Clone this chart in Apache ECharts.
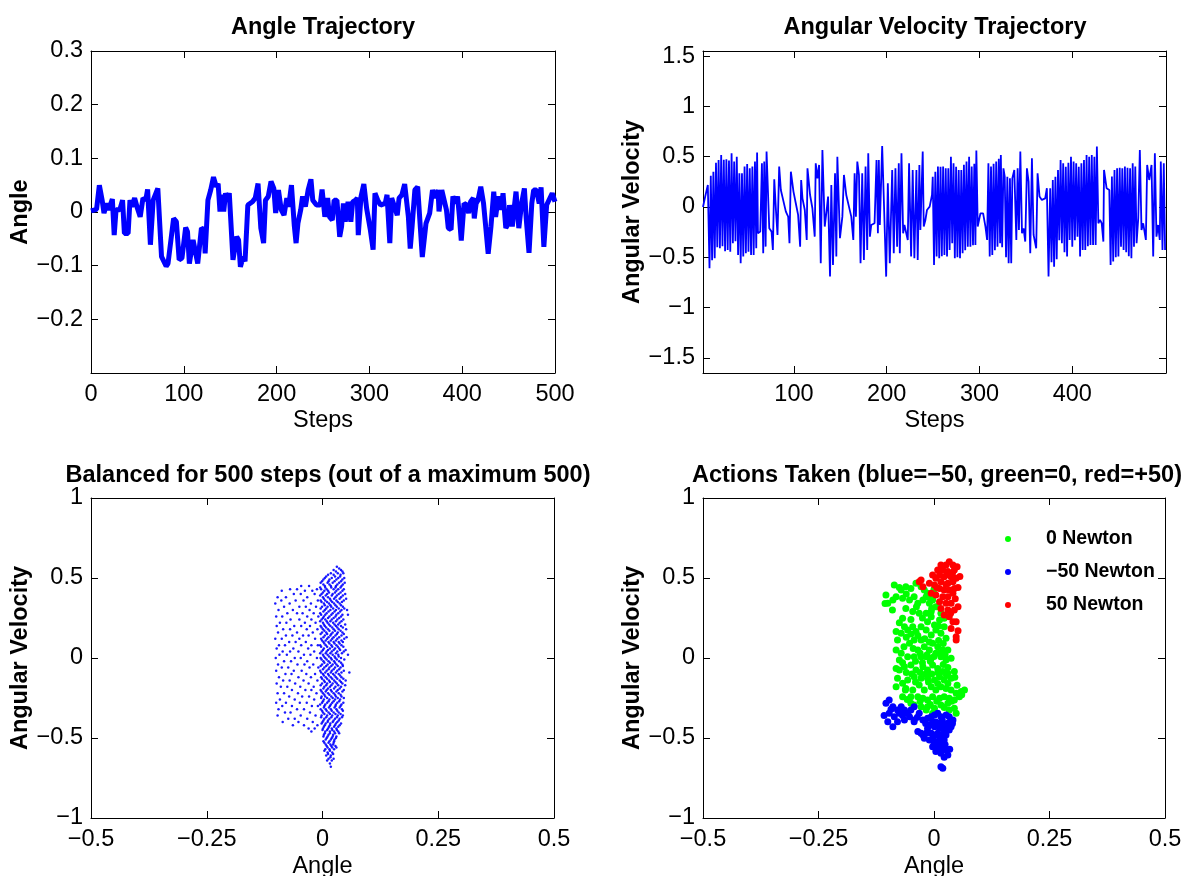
<!DOCTYPE html>
<html><head><meta charset="utf-8">
<script src="https://cdn.jsdelivr.net/npm/echarts@6/dist/echarts.min.js"></script>
<style>html,body{margin:0;padding:0;background:#fff}#c{width:1190px;height:876px}</style>
</head><body><div id="c"></div>
<script>
// ---------- data ----------
const titles = ['Angle Trajectory', 'Angular Velocity Trajectory',
  'Balanced for 500 steps (out of a maximum 500)', 'Actions Taken (blue=\u221250, green=0, red=+50)'];
const legendNames = ['0 Newton', '\u221250 Newton', '50 Newton'];

const angleTicksY = [-0.2, -0.1, 0, 0.1, 0.2, 0.3];
const stepTicksA = [0, 100, 200, 300, 400, 500];
const velTicksY = [-1.5, -1, -0.5, 0, 0.5, 1, 1.5];
const stepTicksV = [100, 200, 300, 400];
const phaseTicksX = [-0.5, -0.25, 0, 0.25, 0.5];
const phaseTicksY = [-1, -0.5, 0, 0.5, 1];

// angle trajectory [step, angle]
const angleTraj = [[0,0.002],[6,0.005],[9,0.050],[12,0.022],[14,-0.002],[17,0.016],[19,0.004],[23,0.024],[25,-0.043],[27,0.004],[31,0.004],[34,0.022],[36,-0.040],[40,-0.040],[42,0.022],[44,0.010],[47,0.026],[50,0.007],[53,-0.009],[56,0.026],[59,0.022],[61,0.042],[64,-0.061],[67,0.022],[72,0.044],[76,-0.083],[81,-0.101],[83,-0.096],[89,-0.012],[92,-0.018],[95,-0.089],[98,-0.086],[102,-0.029],[104,-0.037],[106,-0.096],[110,-0.052],[115,-0.096],[119,-0.030],[122,-0.033],[123,-0.077],[126,0.022],[129,0.041],[132,0.065],[135,0.047],[137,0.053],[139,0.001],[141,0.032],[143,0.001],[145,0.035],[147,0.022],[149,0.035],[153,-0.089],[157,-0.046],[159,-0.052],[161,-0.102],[164,-0.083],[166,-0.092],[169,0.013],[171,0.016],[174,0.019],[177,0.026],[180,0.053],[183,-0.030],[186,-0.058],[188,0.022],[191,0.029],[194,0.057],[197,0.044],[199,-0.002],[202,0.041],[205,0.004],[208,-0.006],[211,0.026],[213,0.010],[216,0.050],[219,-0.024],[221,-0.058],[223,-0.021],[226,0.004],[228,0.029],[231,0.010],[234,0.041],[237,0.061],[239,0.022],[243,0.013],[247,0.013],[249,0.042],[252,-0.009],[255,0.026],[257,-0.009],[260,-0.015],[262,0.022],[265,0.022],[268,-0.046],[270,-0.027],[272,0.016],[274,-0.018],[277,0.019],[280,-0.018],[282,0.019],[285,0.022],[287,0.026],[288,-0.043],[291,0.029],[294,0.052],[297,0.007],[301,-0.033],[304,-0.070],[306,0.035],[309,0.022],[312,0.013],[317,0.016],[319,0.032],[322,-0.058],[324,0.026],[327,0.010],[330,-0.006],[332,0.026],[335,0.032],[338,0.052],[342,-0.009],[344,-0.068],[346,-0.027],[349,0.041],[352,0.047],[357,-0.084],[361,-0.021],[365,-0.002],[368,0.041],[371,0.026],[374,0.041],[375,0.001],[378,0.041],[383,0.004],[385,-0.030],[388,-0.033],[390,0.029],[393,0.016],[395,0.029],[397,-0.009],[399,-0.053],[402,0.016],[405,0.013],[407,-0.002],[409,0.019],[412,0.026],[413,-0.012],[415,0.016],[417,0.022],[420,0.047],[423,0.016],[425,-0.021],[428,-0.078],[431,-0.027],[434,0.038],[436,-0.009],[439,0.029],[442,0.004],[444,0.035],[447,-0.030],[450,-0.021],[451,0.013],[454,-0.027],[456,0.007],[458,0.038],[461,-0.030],[464,0.016],[467,0.044],[469,-0.012],[472,-0.076],[475,0.016],[477,0.041],[480,0.041],[483,0.016],[485,0.046],[488,-0.065],[491,0.013],[493,0.016],[497,0.035],[500,0.019]];

// angular velocity trajectory [step, angular velocity]
const velocityTraj = [[2,0.0],[4.3,0.10],[7.2,0.219],[9.0,-0.609],[10.4,0.31],[11.8,-0.53],[13.2,0.35],[14.6,-0.51],[16.0,0.44],[17.4,-0.40],[18.8,0.467],[20.2,-0.41],[21.6,0.517],[23.0,-0.39],[24.4,0.47],[25.8,-0.44],[27.2,0.474],[28.6,-0.427],[30.0,0.461],[31.4,-0.444],[32.8,0.533],[34.2,-0.361],[35.6,0.451],[37.0,-0.34],[38.4,0.50],[39.8,-0.477],[41.2,0.335],[42.6,-0.56],[44.0,0.335],[45.4,-0.493],[46.8,0.401],[48.2,-0.46],[49.6,0.427],[51.0,-0.444],[52.4,0.384],[53.8,-0.477],[55.2,0.401],[56.6,-0.477],[58.0,0.451],[59.4,-0.411],[60.3,0.540],[61.2,-0.262],[63.7,-0.245],[65.5,0.434],[66.9,-0.460],[68.0,0.451],[69.5,-0.394],[70.5,0.550],[73.4,-0.212],[75.9,-0.245],[77.3,-0.427],[78.8,0.275],[80.6,-0.030],[82.3,-0.278],[84.1,0.401],[85.9,0.169],[88.8,0.053],[91.3,-0.046],[93.8,-0.096],[95.2,-0.361],[96.7,0.351],[99.5,0.153],[102.0,0.037],[104.5,-0.079],[106.7,-0.394],[107.8,0.268],[109.2,0.086],[111.7,-0.030],[113.8,-0.328],[114.6,0.384],[117.4,0.119],[119.9,-0.013],[122.4,-0.295],[123.5,0.434],[125.3,0.285],[127.1,0.418],[128.9,-0.560],[130.7,0.567],[133.2,-0.195],[135.3,-0.030],[136.8,0.103],[138.9,-0.692],[140.3,0.219],[142.1,-0.576],[144.3,0.335],[145.7,-0.493],[146.8,0.500],[149.6,-0.311],[152.2,-0.096],[153.9,0.318],[156.4,0.119],[159.3,0.003],[161.8,-0.096],[164.0,-0.328],[165.4,0.335],[166.8,-0.096],[168.3,0.451],[170.1,0.318],[171.8,-0.560],[173.6,0.335],[175.4,-0.527],[177.2,0.401],[179.0,-0.427],[180.1,0.533],[181.9,-0.295],[183.3,-0.179],[185.4,-0.195],[186.9,-0.162],[189.0,0.467],[190.5,-0.262],[191.5,0.467],[192.6,-0.179],[195.1,0.606],[196.9,0.070],[199.4,-0.692],[201.2,0.235],[203.3,-0.560],[205.9,0.368],[207.6,-0.460],[209.4,0.384],[211.2,-0.394],[213.0,0.434],[214.1,-0.460],[215.9,0.533],[217.7,-0.262],[219.1,-0.179],[221.2,-0.179],[222.7,-0.328],[224.1,0.434],[226.3,-0.493],[228.0,0.368],[229.8,-0.510],[232.0,0.368],[233.4,-0.527],[235.2,0.418],[236.3,-0.228],[238.8,0.550],[239.9,-0.195],[241.7,-0.129],[243.4,-0.030],[246.3,0.003],[248.8,0.119],[249.6,0.30],[251.0,-0.576],[252.4,0.351],[253.8,-0.493],[255.2,0.401],[256.6,-0.510],[258.0,0.40],[259.4,-0.49],[260.8,0.401],[262.2,-0.477],[263.6,0.384],[265.0,-0.493],[266.4,0.384],[267.8,-0.427],[269.2,0.500],[270.6,-0.361],[272.0,0.434],[273.4,-0.510],[274.8,0.40],[276.2,-0.50],[277.6,0.368],[279.0,-0.510],[280.4,0.368],[281.8,-0.460],[283.2,0.42],[284.6,-0.43],[286.0,0.451],[287.4,-0.394],[288.8,0.500],[290.2,-0.394],[291.6,0.401],[293.0,-0.38],[294.4,0.43],[295.6,-0.377],[296.6,0.560],[298.1,-0.195],[301.0,-0.063],[303.9,-0.063],[306.4,-0.195],[308.2,-0.328],[309.6,0.434],[311.0,-0.493],[312.4,0.401],[313.8,-0.477],[315.2,0.43],[316.6,-0.43],[318.0,0.451],[319.4,-0.394],[320.8,0.48],[322.2,-0.361],[323.0,0.517],[324.4,-0.40],[325.8,0.384],[327.2,0.302],[328.6,-0.50],[330.0,0.30],[331.4,-0.560],[332.8,0.285],[334.2,-0.560],[335.4,0.285],[337.5,0.368],[339.7,-0.328],[341.1,0.384],[342.5,-0.228],[344.0,0.550],[345.8,-0.262],[347.5,-0.212],[349.3,-0.344],[351.1,0.384],[352.9,0.252],[354.7,-0.460],[356.5,0.484],[358.3,-0.278],[361.1,-0.411],[362.6,0.335],[364.7,0.103],[367.2,0.070],[370.8,0.086],[372.6,0.186],[374.4,-0.692],[376.2,0.186],[377.6,-0.55],[379.0,0.268],[380.4,-0.593],[381.8,0.30],[383.2,-0.52],[384.6,0.368],[386.0,-0.33],[387.4,0.467],[388.8,-0.36],[390.2,0.434],[391.6,-0.45],[393.0,0.40],[394.4,-0.493],[395.8,0.44],[397.2,-0.328],[398.6,0.500],[400.0,-0.394],[401.4,0.451],[402.8,-0.33],[404.2,0.434],[405.6,-0.295],[407.0,0.40],[408.4,-0.493],[409.8,0.434],[411.2,-0.427],[412.6,0.467],[414.0,-0.427],[415.4,0.517],[416.8,-0.39],[418.2,0.50],[419.6,-0.377],[421.0,0.517],[422.4,-0.377],[423.8,0.500],[425.2,-0.377],[426.5,0.600],[428.1,-0.162],[429.9,-0.129],[431.7,-0.162],[433.5,-0.344],[434.2,0.368],[437.0,0.186],[439.9,0.169],[441.3,-0.576],[442.7,0.302],[444.1,-0.543],[445.5,0.368],[446.9,-0.50],[448.3,0.384],[449.7,-0.493],[451.1,0.39],[452.5,-0.394],[453.9,0.384],[455.3,-0.427],[456.7,0.401],[458.1,-0.45],[459.5,0.39],[460.9,-0.49],[462.3,0.384],[463.7,-0.510],[465.1,0.434],[466.5,-0.394],[467.9,0.401],[469.3,-0.361],[471.1,-0.112],[472.8,0.567],[474.6,-0.228],[476.4,-0.162],[479.3,-0.328],[480.7,0.418],[482.9,0.268],[485.4,0.418],[487.2,-0.493],[489.0,0.533],[490.7,-0.295],[492.5,-0.179],[494.3,-0.328],[495.4,0.451],[497.2,-0.427],[498.6,0.434],[500.0,-0.427]];

// visited states (bottom-left): rows of [angular velocity, [angles]]
const denseRows = [[0.57,[0.031]],[0.55,[0.024,0.040]],[0.53,[0.018,0.033,0.045]],[0.51,[0.008,0.027,0.038]],[0.49,[0.002,0.015,0.030,0.043]],[0.47,[-0.004,0.011,0.022,0.036,0.048]],[0.45,[0.005,0.018,0.029,0.041]],[0.43,[-0.003,0.009,0.024,0.034,0.046]],[0.41,[0.001,0.014,0.027,0.039]],[0.39,[-0.005,0.007,0.020,0.031,0.044]],[0.37,[0.003,0.016,0.025,0.037,0.051]],[0.35,[-0.002,0.010,0.021,0.033,0.042]],[0.33,[0.005,0.017,0.028,0.040]],[0.31,[-0.004,0.008,0.023,0.035,0.047]],[0.29,[0.002,0.013,0.026,0.038]],[0.27,[-0.003,0.006,0.019,0.030,0.043,0.055]],[0.25,[0.001,0.012,0.024,0.036]],[0.23,[-0.005,0.009,0.017,0.029,0.041]],[0.21,[0.003,0.014,0.026,0.034,0.049]],[0.19,[-0.002,0.008,0.021,0.032,0.044]],[0.17,[0.004,0.015,0.027,0.039]],[0.15,[-0.004,0.010,0.019,0.031,0.046]],[0.13,[0.002,0.013,0.024,0.036,0.052]],[0.11,[-0.001,0.007,0.018,0.029,0.041]],[0.09,[0.004,0.015,0.026,0.037]],[0.07,[-0.003,0.010,0.021,0.033,0.045]],[0.05,[0.001,0.012,0.024,0.038,0.050]],[0.03,[-0.005,0.007,0.017,0.029,0.042]],[0.01,[0.003,0.014,0.026,0.035]],[-0.01,[-0.002,0.009,0.020,0.031,0.047]],[-0.03,[0.004,0.016,0.027,0.040]],[-0.05,[-0.004,0.008,0.019,0.033,0.044]],[-0.07,[0.001,0.013,0.024,0.036]],[-0.09,[-0.003,0.006,0.018,0.029,0.041,0.058]],[-0.11,[0.003,0.014,0.026,0.038]],[-0.13,[-0.001,0.010,0.021,0.032,0.045]],[-0.15,[0.005,0.016,0.028,0.040]],[-0.17,[-0.004,0.008,0.019,0.034,0.049]],[-0.19,[0.002,0.012,0.025,0.037]],[-0.21,[-0.002,0.007,0.020,0.030,0.043]],[-0.23,[0.004,0.015,0.027,0.039]],[-0.25,[-0.003,0.010,0.022,0.033,0.046]],[-0.27,[0.001,0.013,0.024,0.036]],[-0.29,[-0.005,0.006,0.018,0.029,0.041]],[-0.31,[0.003,0.014,0.026,0.037]],[-0.33,[-0.001,0.009,0.020,0.032,0.044]],[-0.35,[0.004,0.016,0.028,0.039]],[-0.37,[-0.003,0.008,0.019,0.031,0.042]],[-0.39,[0.002,0.012,0.024,0.035]],[-0.41,[-0.002,0.007,0.017,0.029,0.040]],[-0.43,[0.003,0.014,0.025,0.034]],[-0.45,[0.000,0.010,0.021,0.031]],[-0.47,[0.005,0.016,0.027,0.036]],[-0.49,[0.002,0.011,0.022,0.030]],[-0.51,[0.007,0.018,0.026]],[-0.53,[0.004,0.013,0.024]],[-0.55,[0.009,0.019,0.028]],[-0.57,[0.006,0.015,0.025]],[-0.59,[0.011,0.021]],[-0.61,[0.008,0.018]],[-0.63,[0.013,0.024]],[-0.66,[0.016]],[-0.68,[0.018]]];
const denseRows2 = [[0.56,[0.036]],[0.54,[0.029,0.043]],[0.52,[0.012,0.024,0.039]],[0.50,[0.005,0.020,0.034,0.047]],[0.48,[-0.001,0.013,0.026,0.040]],[0.46,[0.002,0.015,0.032,0.044]],[0.44,[-0.005,0.006,0.019,0.028,0.039]],[0.42,[0.004,0.012,0.030,0.043]],[0.40,[-0.002,0.010,0.022,0.035,0.049]],[0.38,[0.001,0.012,0.028,0.040]],[0.36,[-0.004,0.006,0.018,0.030,0.046]],[0.34,[0.003,0.014,0.025,0.037]],[0.32,[-0.001,0.011,0.019,0.031,0.044]],[0.30,[0.005,0.017,0.029,0.041,0.053]],[0.28,[-0.005,0.009,0.022,0.034]],[0.26,[0.003,0.015,0.028,0.040]],[0.24,[-0.002,0.006,0.020,0.032,0.045]],[0.22,[0.001,0.011,0.023,0.037]],[0.20,[-0.004,0.005,0.017,0.029,0.040]],[0.18,[0.001,0.012,0.024,0.035,0.051]],[0.16,[-0.001,0.008,0.022,0.033,0.043]],[0.14,[0.005,0.017,0.028,0.041]],[0.12,[-0.003,0.010,0.021,0.032,0.047]],[0.10,[0.002,0.013,0.024,0.035,0.044]],[0.08,[-0.005,0.007,0.019,0.030,0.041]],[0.06,[0.003,0.016,0.027,0.036]],[0.04,[-0.002,0.009,0.020,0.032,0.046]],[0.02,[0.001,0.011,0.022,0.034,0.055]],[0.00,[-0.004,0.006,0.018,0.028,0.040]],[-0.02,[0.002,0.013,0.025,0.036]],[-0.04,[-0.001,0.011,0.022,0.030,0.043]],[-0.06,[0.004,0.015,0.027,0.039]],[-0.08,[-0.005,0.009,0.020,0.032,0.046]],[-0.10,[0.001,0.012,0.023,0.035]],[-0.12,[-0.003,0.007,0.018,0.029,0.041]],[-0.14,[0.003,0.014,0.025,0.037,0.050]],[-0.16,[-0.001,0.010,0.022,0.031,0.043]],[-0.18,[0.004,0.016,0.028,0.040]],[-0.20,[-0.004,0.009,0.018,0.033,0.046]],[-0.22,[0.001,0.012,0.024,0.035]],[-0.24,[-0.002,0.006,0.019,0.029,0.041]],[-0.26,[0.003,0.015,0.027,0.038]],[-0.28,[-0.001,0.010,0.021,0.032,0.045]],[-0.30,[0.004,0.016,0.028,0.039]],[-0.32,[-0.004,0.007,0.018,0.030,0.042]],[-0.34,[0.001,0.013,0.024,0.035]],[-0.36,[-0.002,0.010,0.021,0.033,0.044]],[-0.38,[0.004,0.015,0.027,0.037]],[-0.40,[0.000,0.011,0.022,0.032]],[-0.42,[0.005,0.016,0.027,0.037]],[-0.44,[0.001,0.012,0.020,0.030]],[-0.46,[0.006,0.016,0.025,0.034]],[-0.48,[0.003,0.013,0.023]],[-0.50,[0.009,0.020,0.029]],[-0.52,[0.002,0.015,0.025]],[-0.54,[0.007,0.017,0.023]],[-0.56,[0.011,0.021,0.030]],[-0.58,[0.004,0.016]],[-0.60,[0.012,0.023]],[-0.62,[0.017]],[-0.64,[0.010,0.020]]];
const sparseRows = [[0.45,[-0.046,-0.029]],[0.43,[-0.070,-0.055,-0.012]],[0.42,[-0.088,-0.038,-0.022]],[0.40,[-0.062,-0.047,-0.017]],[0.38,[-0.097,-0.079,-0.033]],[0.36,[-0.089,-0.058,-0.041,-0.010]],[0.34,[-0.102,-0.071,-0.025]],[0.32,[-0.083,-0.050,-0.036,-0.014]],[0.30,[-0.095,-0.064,-0.028]],[0.28,[-0.076,-0.055,-0.043,-0.019]],[0.26,[-0.100,-0.087,-0.033,-0.009]],[0.24,[-0.069,-0.050,-0.024]],[0.22,[-0.092,-0.078,-0.038,-0.015]],[0.20,[-0.099,-0.061,-0.046,-0.027]],[0.18,[-0.085,-0.070,-0.034,-0.011]],[0.16,[-0.096,-0.055,-0.021]],[0.14,[-0.079,-0.065,-0.042,-0.030]],[0.12,[-0.102,-0.088,-0.050,-0.016]],[0.10,[-0.072,-0.058,-0.036]],[0.08,[-0.094,-0.081,-0.046,-0.024,-0.010]],[0.06,[-0.099,-0.063,-0.031]],[0.04,[-0.086,-0.070,-0.052,-0.018]],[0.02,[-0.093,-0.077,-0.040,-0.026]],[0.00,[-0.101,-0.060,-0.047,-0.012]],[-0.02,[-0.083,-0.068,-0.033]],[-0.04,[-0.096,-0.054,-0.039,-0.020]],[-0.06,[-0.088,-0.074,-0.028,-0.009]],[-0.08,[-0.100,-0.062,-0.045]],[-0.10,[-0.080,-0.067,-0.035,-0.016]],[-0.12,[-0.094,-0.052,-0.025]],[-0.14,[-0.085,-0.071,-0.041,-0.011]],[-0.16,[-0.099,-0.059,-0.030]],[-0.18,[-0.090,-0.076,-0.048,-0.019]],[-0.20,[-0.066,-0.037,-0.024]],[-0.22,[-0.097,-0.083,-0.053,-0.013]],[-0.24,[-0.072,-0.044,-0.029]],[-0.26,[-0.092,-0.060,-0.018]],[-0.28,[-0.100,-0.079,-0.049,-0.034]],[-0.30,[-0.087,-0.066,-0.023,-0.010]],[-0.32,[-0.095,-0.055,-0.040]],[-0.34,[-0.081,-0.069,-0.027]],[-0.36,[-0.097,-0.047,-0.015]],[-0.38,[-0.074,-0.060,-0.033]],[-0.40,[-0.086,-0.052,-0.021]],[-0.42,[-0.064,-0.040,-0.011]],[-0.44,[-0.030,-0.017]],[-0.46,[-0.024]]];

// states along the trajectory coloured by action [angle, angular velocity]
const zeroForce = [[-0.086,0.456],[-0.071,0.425],[-0.061,0.446],[-0.050,0.435],[-0.039,0.467],[-0.028,0.446],[-0.021,0.425],[-0.100,0.342],[-0.104,0.394],[-0.106,0.34],[-0.089,0.362],[-0.082,0.383],[-0.068,0.373],[-0.053,0.362],[-0.043,0.383],[-0.035,0.342],[-0.024,0.362],[-0.017,0.383],[-0.010,0.342],[-0.003,0.362],[0.008,0.321],[0.015,0.279],[-0.006,0.290],[-0.017,0.279],[-0.032,0.279],[-0.046,0.290],[-0.061,0.310],[-0.014,0.404],[-0.003,0.383],[0.004,0.321],[-0.006,0.258],[0.022,0.248],[-0.068,0.248],[-0.064,0.196],[-0.071,0.154],[-0.082,0.165],[-0.079,0.113],[-0.057,0.175],[-0.046,0.196],[-0.039,0.165],[-0.028,0.196],[-0.017,0.175],[-0.006,0.144],[0.004,0.175],[0.015,0.154],[0.026,0.123],[0.022,0.196],[0.012,0.237],[0.001,0.206],[-0.014,0.227],[-0.028,0.113],[-0.043,0.113],[-0.053,0.092],[-0.035,0.050],[-0.021,0.071],[-0.010,0.050],[-0.003,0.092],[0.008,0.071],[0.019,0.050],[0.030,0.050],[0.037,-0.002],[0.026,-0.012],[0.015,0.008],[0.004,0.029],[-0.006,-0.002],[-0.017,0.008],[-0.028,0.008],[-0.043,0.008],[-0.057,0.008],[-0.071,0.029],[-0.075,-0.012],[-0.082,0.05],[-0.064,-0.054],[-0.050,-0.044],[-0.039,-0.075],[-0.024,-0.054],[-0.014,-0.075],[-0.003,-0.044],[0.008,-0.065],[0.019,-0.085],[0.030,-0.096],[0.044,-0.085],[0.037,-0.127],[0.022,-0.137],[0.012,-0.117],[0.001,-0.137],[-0.014,-0.127],[-0.028,-0.127],[-0.043,-0.117],[-0.057,-0.137],[-0.068,-0.158],[-0.079,-0.127],[-0.075,-0.075],[-0.082,-0.065],[-0.082,-0.179],[-0.061,-0.190],[-0.046,-0.200],[-0.032,-0.169],[-0.021,-0.200],[-0.006,-0.179],[0.004,-0.200],[0.015,-0.179],[0.026,-0.190],[0.037,-0.200],[0.048,-0.221],[0.059,-0.210],[0.066,-0.200],[0.055,-0.242],[0.044,-0.262],[0.033,-0.252],[0.022,-0.242],[0.012,-0.252],[-0.003,-0.242],[-0.014,-0.262],[-0.024,-0.252],[-0.035,-0.242],[-0.050,-0.242],[-0.068,-0.242],[-0.028,-0.304],[-0.014,-0.304],[0.001,-0.314],[0.015,-0.294],[0.030,-0.283],[0.044,-0.314],[0.048,-0.346],[0.033,-0.325],[-0.003,-0.346],[-0.017,-0.325],[-0.043,-0.294],[-0.050,-0.283],[-0.060,0.13],[-0.050,0.15],[-0.035,0.14],[-0.020,0.12],[-0.010,0.10],[0.010,0.11],[0.020,0.09],[-0.065,0.07],[-0.045,0.06],[-0.030,0.03],[-0.015,0.02],[0.000,0.01],[0.012,0.03],[0.024,0.02],[-0.068,-0.03],[-0.040,-0.02],[-0.025,-0.03],[-0.008,-0.02],[0.020,-0.04],[0.030,-0.06],[-0.060,-0.09],[-0.048,-0.10],[-0.030,-0.09],[-0.018,-0.10],[-0.005,-0.10],[0.008,-0.09],[0.027,-0.11],[0.045,-0.12],[-0.062,-0.20],[-0.040,-0.15],[-0.012,-0.15],[0.008,-0.16],[0.030,-0.16],[0.050,-0.17],[0.060,-0.23],[-0.058,-0.26],[-0.030,-0.27],[0.006,-0.27],[0.038,-0.27],[-0.008,-0.29],[0.022,-0.31],[-0.075,0.22],[-0.090,0.30],[-0.050,0.24],[-0.038,0.32],[-0.005,0.31],[0.010,0.20],[-0.025,0.25],[-0.060,0.40],[-0.075,0.44],[0.000,0.43],[-0.010,0.38]];
const negForce = [[-0.104,-0.283],[-0.097,-0.262],[-0.089,-0.304],[-0.079,-0.325],[-0.071,-0.304],[-0.064,-0.325],[-0.057,-0.346],[-0.050,-0.325],[-0.043,-0.304],[-0.097,-0.346],[-0.086,-0.367],[-0.089,-0.429],[-0.100,-0.398],[-0.079,-0.398],[-0.064,-0.387],[-0.053,-0.367],[-0.043,-0.387],[-0.032,-0.346],[-0.024,-0.387],[-0.014,-0.377],[-0.006,-0.367],[0.001,-0.356],[0.008,-0.346],[0.015,-0.367],[0.026,-0.356],[0.033,-0.367],[0.037,-0.398],[0.030,-0.408],[0.019,-0.419],[0.008,-0.408],[-0.003,-0.398],[-0.010,-0.419],[0.001,-0.429],[0.012,-0.439],[0.022,-0.450],[0.033,-0.450],[0.026,-0.481],[0.015,-0.481],[0.004,-0.481],[-0.006,-0.471],[-0.017,-0.471],[-0.028,-0.471],[-0.021,-0.502],[-0.010,-0.512],[0.001,-0.523],[0.012,-0.512],[0.022,-0.512],[-0.003,-0.554],[0.008,-0.554],[0.019,-0.564],[0.026,-0.575],[0.015,-0.596],[0.004,-0.585],[0.030,-0.606],[0.019,-0.689],[0.015,-0.679],[0.037,-0.429],[0.041,-0.387],[-0.035,-0.460],[-0.024,-0.481],[-0.075,-0.346],[-0.043,-0.398],[-0.108,-0.36],[-0.093,-0.32],[-0.068,-0.36],[-0.036,-0.37],[-0.018,-0.41],[0.004,-0.40],[0.018,-0.39],[0.028,-0.43],[0.040,-0.41],[-0.014,-0.44],[0.008,-0.47],[0.020,-0.50],[-0.002,-0.50],[0.012,-0.54],[0.024,-0.54],[0.000,-0.53],[0.010,-0.58],[0.022,-0.62],[0.034,-0.57]];
const posForce = [[0.033,0.602],[0.041,0.581],[0.026,0.581],[0.019,0.550],[0.030,0.540],[0.044,0.550],[0.012,0.519],[0.022,0.508],[0.037,0.508],[0.004,0.498],[-0.003,0.519],[0.015,0.477],[0.030,0.467],[0.041,0.477],[0.048,0.498],[-0.010,0.467],[0.001,0.456],[0.012,0.435],[0.022,0.425],[0.033,0.425],[0.044,0.435],[-0.006,0.404],[0.004,0.394],[0.019,0.383],[0.030,0.383],[0.041,0.404],[0.012,0.352],[0.026,0.342],[0.037,0.342],[0.015,0.310],[0.030,0.300],[0.044,0.300],[0.022,0.269],[0.033,0.258],[0.041,0.227],[0.048,0.227],[0.037,0.185],[0.048,0.133],[0.048,0.113],[-0.028,0.487],[-0.032,0.477],[-0.024,0.446],[0.008,0.550],[0.015,0.581],[0.052,0.44],[0.046,0.37],[0.056,0.51],[0.050,0.57],[0.026,0.46],[0.006,0.44],[0.036,0.28],[0.052,0.32],[0.028,0.52],[0.040,0.53],[0.052,0.17]];

// ---------- chart ----------
const FONT = "'Liberation Sans', Arial, Helvetica, sans-serif";
const FS = 23.5;
function fmt(v){ const a = Math.round(Math.abs(v)*1000)/1000; return (v < -1e-9 ? '\u2212' : '') + a; }

const grids = [
  {left: 91, top: 51, width: 464, height: 322, outerBoundsMode: 'none', containLabel: false},
  {left: 703, top: 51, width: 463, height: 322, outerBoundsMode: 'none', containLabel: false},
  {left: 91, top: 498, width: 463, height: 320, outerBoundsMode: 'none', containLabel: false},
  {left: 703, top: 498, width: 462, height: 320, outerBoundsMode: 'none', containLabel: false}
];

function mkAxis(dim, gi, min, max, ticks, mirror, name, bold, gap){
  const ax = {
    type: 'value', gridIndex: gi, min: min, max: max,
    position: dim === 'x' ? (mirror ? 'top' : 'bottom') : (mirror ? 'right' : 'left'),
    axisLine: {show: true, onZero: false, lineStyle: {color: '#000', width: 1}},
    axisTick: {show: true, inside: true, length: 7, customValues: ticks, lineStyle: {color: '#000', width: 1}},
    axisLabel: {show: !mirror, customValues: ticks, formatter: fmt, color: '#000', fontSize: FS, fontFamily: FONT, margin: dim === 'x' ? 10 : 8},
    splitLine: {show: false}
  };
  if (!mirror && name) {
    ax.name = name; ax.nameLocation = 'middle'; ax.nameGap = gap;
    ax.nameTextStyle = {color: '#000', fontSize: FS, fontFamily: FONT, fontWeight: bold ? 'bold' : 'normal'};
  }
  return ax;
}

const xAxes = [
  mkAxis('x', 0, 0, 500, stepTicksA, false, 'Steps', false, 36),
  mkAxis('x', 0, 0, 500, stepTicksA, true),
  mkAxis('x', 1, 2, 501, stepTicksV, false, 'Steps', false, 36),
  mkAxis('x', 1, 2, 501, stepTicksV, true),
  mkAxis('x', 2, -0.5, 0.5, phaseTicksX, false, 'Angle', false, 37),
  mkAxis('x', 2, -0.5, 0.5, phaseTicksX, true),
  mkAxis('x', 3, -0.5, 0.5, phaseTicksX, false, 'Angle', false, 37),
  mkAxis('x', 3, -0.5, 0.5, phaseTicksX, true)
];
const yAxes = [
  mkAxis('y', 0, -0.3, 0.3, angleTicksY, false, 'Angle', true, 55),
  mkAxis('y', 0, -0.3, 0.3, angleTicksY, true),
  mkAxis('y', 1, -1.65, 1.55, velTicksY, false, 'Angular Velocity', true, 55),
  mkAxis('y', 1, -1.65, 1.55, velTicksY, true),
  mkAxis('y', 2, -1, 1, phaseTicksY, false, 'Angular Velocity', true, 55),
  mkAxis('y', 2, -1, 1, phaseTicksY, true),
  mkAxis('y', 3, -1, 1, phaseTicksY, false, 'Angular Velocity', true, 55),
  mkAxis('y', 3, -1, 1, phaseTicksY, true)
];

const visited = [];
denseRows.concat(denseRows2, sparseRows).forEach(r => r[1].forEach(a => visited.push([a, r[0]])));

const titleCenters = [[323, 28], [935, 28], [328, 476], [937, 476]];
const graphic = titles.map((t, i) => ({
  type: 'text', x: titleCenters[i][0], y: titleCenters[i][1],
  style: {text: t, fill: '#000', font: 'bold ' + FS + 'px ' + FONT, textAlign: 'center', textVerticalAlign: 'middle'}
}));

const chart = echarts.init(document.getElementById('c'), null, {renderer: 'canvas'});
chart.setOption({
  animation: false,
  backgroundColor: '#fff',
  grid: grids,
  xAxis: xAxes,
  yAxis: yAxes,
  graphic: graphic,
  legend: {
    data: legendNames, orient: 'vertical', left: 1000, top: 524,
    itemWidth: 66, itemHeight: 6, itemGap: 13, icon: 'circle',
    textStyle: {color: '#000', fontSize: 19.5, fontWeight: 'bold', fontFamily: FONT},
    selectedMode: false
  },
  series: [
    {type: 'line', name: 'angle', xAxisIndex: 0, yAxisIndex: 0, data: angleTraj, showSymbol: false, symbol: 'none',
      lineStyle: {color: '#0000ff', width: 5}, itemStyle: {color: '#0000ff'}},
    {type: 'line', name: 'velocity', xAxisIndex: 2, yAxisIndex: 2, data: velocityTraj, showSymbol: false, symbol: 'none',
      lineStyle: {color: '#0000ff', width: 1.8}, itemStyle: {color: '#0000ff'}},
    {type: 'scatter', name: 'visited', xAxisIndex: 4, yAxisIndex: 4, data: visited, symbolSize: 2.5,
      itemStyle: {color: '#0000ff', opacity: 0.9}},
    {type: 'scatter', name: legendNames[0], xAxisIndex: 6, yAxisIndex: 6, data: zeroForce, symbolSize: 7,
      itemStyle: {color: '#00ff00', opacity: 1}},
    {type: 'scatter', name: legendNames[1], xAxisIndex: 6, yAxisIndex: 6, data: negForce, symbolSize: 7,
      itemStyle: {color: '#0000ff', opacity: 1}},
    {type: 'scatter', name: legendNames[2], xAxisIndex: 6, yAxisIndex: 6, data: posForce, symbolSize: 7,
      itemStyle: {color: '#ff0000', opacity: 1}}
  ]
});
</script></body></html>
